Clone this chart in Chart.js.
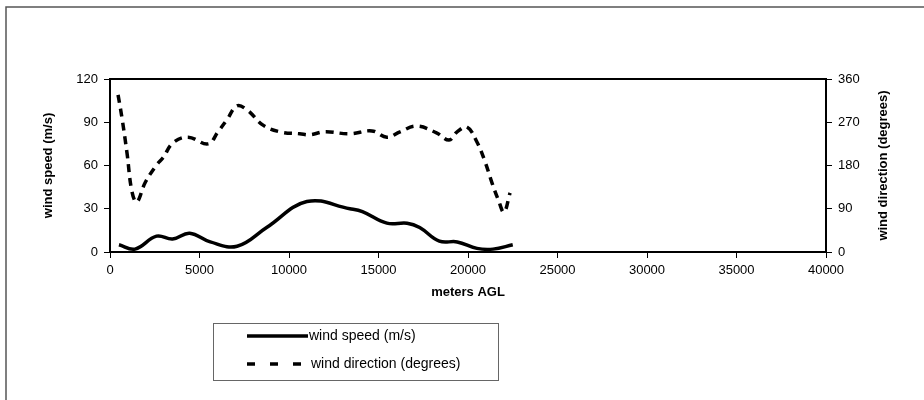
<!DOCTYPE html>
<html>
<head>
<meta charset="utf-8">
<script src="https://cdn.jsdelivr.net/npm/chart.js@4/dist/chart.umd.min.js"></script>
<style>
  html, body { margin: 0; padding: 0; background: #fff; }
  #wrap { width: 924px; height: 400px; position: relative; }
</style>
</head>
<body>
<div id="wrap"><canvas id="windChart" width="924" height="400"></canvas></div>
<script>
// values
var speedHeights = [500, 1400, 2600, 3500, 4450, 5600, 7100, 8750, 11000, 13400, 14100, 15470, 16600, 17300, 18400, 19400, 20500, 21400, 22500];
var windSpeed = [5, 2, 11, 9, 13, 7, 4, 17, 35, 30, 28, 20, 20, 17, 7.5, 7, 2.5, 2, 5];

var dirHeights = [450, 670, 950, 1230, 1500, 1960, 2600, 2960, 3520, 4360, 5480, 6030, 6530, 7090, 7650, 8550, 9500, 10600, 11170, 12000, 13400, 14630, 15470, 16200, 17130, 18240, 18940, 19390, 19940, 20500, 20950, 21340, 21700, 22010, 22350];
var windDir = [327, 279, 206, 125, 104, 144, 181, 196, 227, 239, 225, 250, 275, 304, 296, 264, 250, 246, 244, 250, 246, 252, 239, 250, 262, 248, 233, 250, 260, 229, 188, 144, 108, 83, 123];

var speedTicks = [0, 30, 60, 90, 120];
var dirTicks = [0, 90, 180, 270, 360];

var labels = ['wind speed (m/s)', 'wind direction (degrees)'];
var dirTitle = 'wind direction (degrees)';

function pts(xs, ys) {
  return xs.map(function (x, i) { return { x: x, y: ys[i] }; });
}

var FONT = '"Liberation Sans", Arial, sans-serif';

var framePlugin = {
  id: 'frame',
  beforeDraw: function (chart) {
    var c = chart.ctx;
    c.save();
    c.strokeStyle = '#555';
    c.lineWidth = 1.5;
    c.beginPath();
    c.moveTo(6, 400);
    c.lineTo(6, 7);
    c.lineTo(924, 7);
    c.stroke();
    c.restore();
  },
  afterDraw: function (chart) {
    var a = chart.chartArea, c = chart.ctx;
    c.save();
    c.strokeStyle = '#000';
    c.lineWidth = 2;
    c.beginPath();
    c.moveTo(a.left, a.top);
    c.lineTo(a.right, a.top);
    c.stroke();

    // right axis title, reading bottom to top
    c.save();
    c.translate(883, (a.top + a.bottom) / 2);
    c.rotate(-Math.PI / 2);
    c.font = 'bold 13px ' + FONT;
    c.fillStyle = '#000';
    c.textAlign = 'center';
    c.textBaseline = 'middle';
    c.fillText(dirTitle, 0, 0);
    c.restore();

    // legend box
    var bx = 213, by = 323, bw = 285, bh = 57;
    c.strokeStyle = '#666';
    c.lineWidth = 1;
    c.strokeRect(bx + 0.5, by + 0.5, bw, bh);
    c.font = '14px ' + FONT;
    c.fillStyle = '#000';
    c.textBaseline = 'middle';
    chart.data.datasets.forEach(function (ds, i) {
      var y = by + 13 + i * 28;
      c.strokeStyle = '#000';
      c.lineWidth = ds.borderWidth;
      c.lineCap = 'butt';
      c.beginPath();
      if (ds.borderDash) {
        c.setLineDash([8, 15]);
        c.moveTo(247, y); c.lineTo(302, y);
      } else {
        c.moveTo(247, y); c.lineTo(308, y);
      }
      c.stroke();
      c.setLineDash([]);
      c.fillText(ds.label, ds.borderDash ? 311 : 309, y);
    });
    c.restore();
  }
};

var ctx = document.getElementById('windChart');
new Chart(ctx, {
  type: 'scatter',
  data: {
    datasets: [{
      label: labels[0],
      data: pts(speedHeights, windSpeed),
      showLine: true,
      borderColor: '#000',
      borderWidth: 3.5,
      pointRadius: 0,
      tension: 0.4,
      yAxisID: 'y'
    }, {
      label: labels[1],
      data: pts(dirHeights, windDir),
      showLine: true,
      borderColor: '#000',
      borderWidth: 3.5,
      borderDash: [8, 6],
      pointRadius: 0,
      tension: 0.4,
      yAxisID: 'y1'
    }]
  },
  options: {
    responsive: false,
    animation: false,
    layout: { padding: { left: 41, right: 34, top: 79, bottom: 100 } },
    plugins: { legend: { display: false }, tooltip: { enabled: false } },
    scales: {
      x: {
        type: 'linear',
        min: 0, max: 40000,
        afterFit: function (s) { s.height = 48; },
        ticks: {
          stepSize: 5000, color: '#000', padding: 5,
          font: { family: FONT, size: 13 },
          callback: function (v) { return String(v); }
        },
        grid: { drawOnChartArea: false, tickLength: 6, color: '#000' },
        border: { color: '#000', width: 2 },
        title: { display: true, text: 'meters AGL', color: '#000', padding: 0, font: { family: FONT, size: 13, weight: 'bold' } }
      },
      y: {
        position: 'left',
        min: 0, max: 120,
        afterFit: function (s) { s.width = 69; },
        afterBuildTicks: function (s) { s.ticks = speedTicks.map(function (v) { return { value: v }; }); },
        ticks: { color: '#000', padding: 6, font: { family: FONT, size: 13 } },
        grid: { drawOnChartArea: false, tickLength: 6, color: '#000' },
        border: { color: '#000', width: 2 },
        title: { display: true, text: 'wind speed (m/s)', color: '#000', padding: 0, font: { family: FONT, size: 13, weight: 'bold' } }
      },
      y1: {
        position: 'right',
        min: 0, max: 360,
        afterFit: function (s) { s.width = 64; },
        afterBuildTicks: function (s) { s.ticks = dirTicks.map(function (v) { return { value: v }; }); },
        ticks: { color: '#000', padding: 6, font: { family: FONT, size: 13 } },
        grid: { drawOnChartArea: false, tickLength: 6, color: '#000' },
        border: { color: '#000', width: 2 },
        title: { display: false }
      }
    }
  },
  plugins: [framePlugin]
});
</script>
</body>
</html>
